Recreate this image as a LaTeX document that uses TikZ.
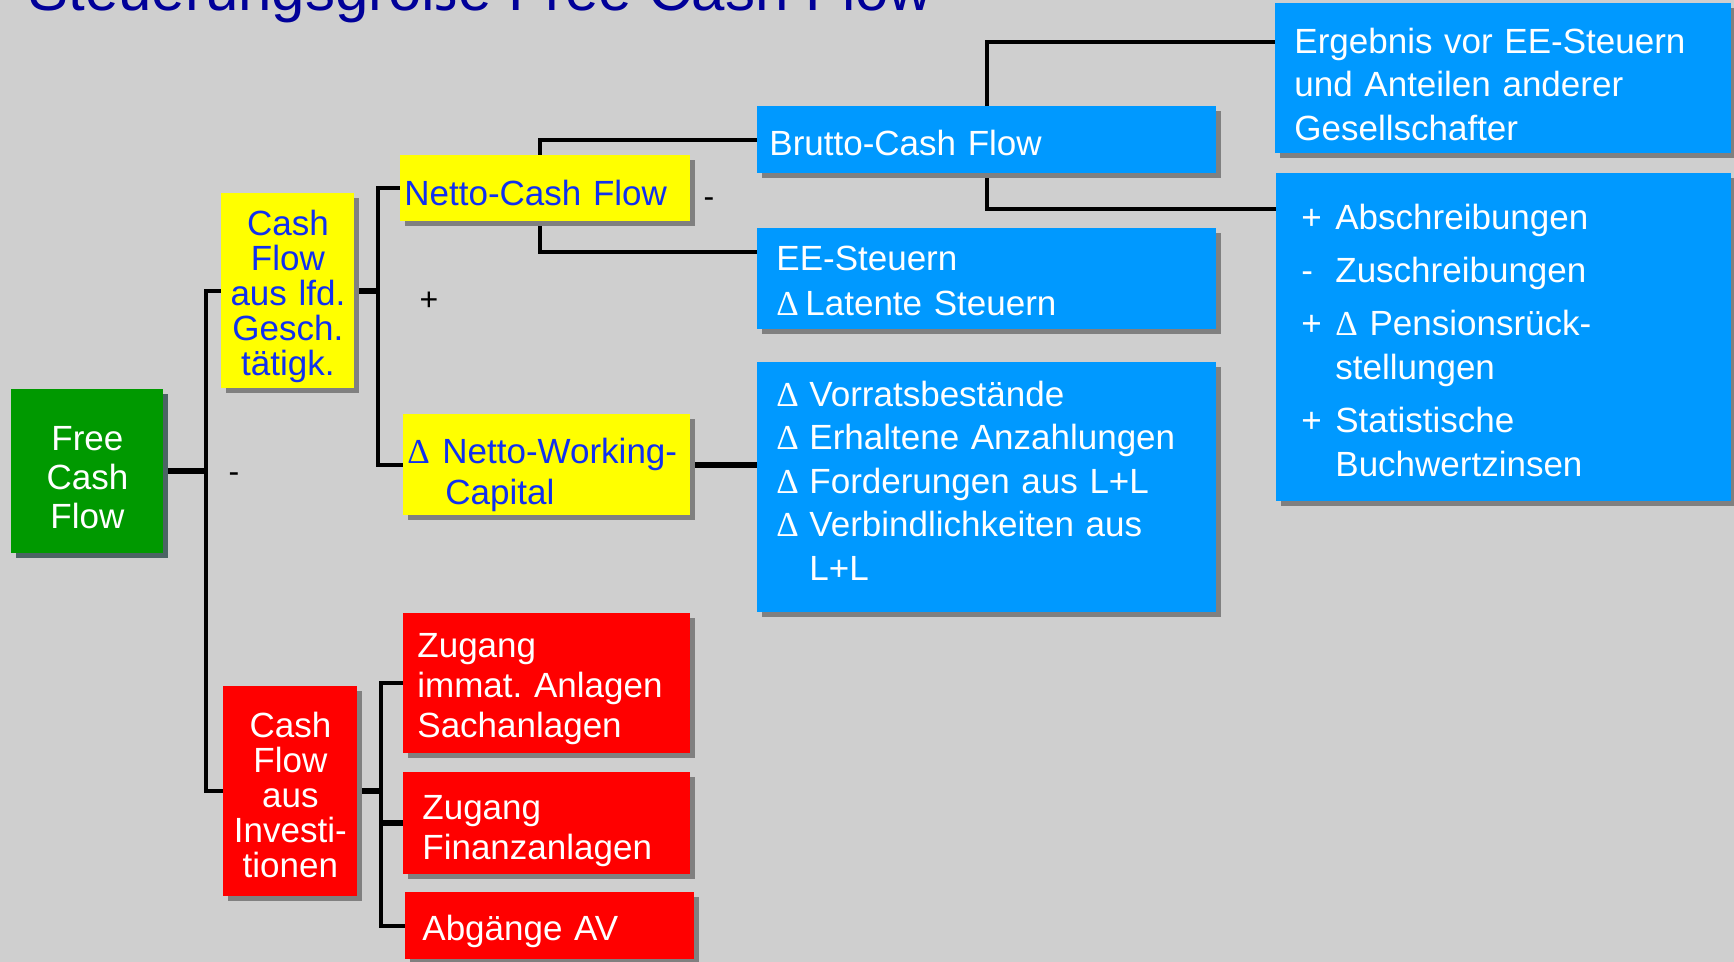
\documentclass[tikz,border=0pt]{standalone}
\usepackage{fontspec}
\setmainfont{Liberation Sans}
\newfontfamily\deltafont{Liberation Serif}
\usetikzlibrary{shadows, backgrounds}
\definecolor{slidegray}{HTML}{CFCFCF}
\definecolor{titleblue}{HTML}{000099}
\definecolor{textblue}{HTML}{1030F0}
\definecolor{boxgreen}{HTML}{009900}
\definecolor{boxyellow}{HTML}{FFFF00}
\definecolor{boxblue}{HTML}{0099FF}
\definecolor{boxred}{HTML}{FF0000}
\definecolor{shadowgray}{HTML}{808080}
\definecolor{shadowslate}{HTML}{4B6464}
\newcommand{\Dlt}{{\deltafont Δ}}
\newcommand{\Hang}[2]{\makebox[#1][l]{#2}}
\frenchspacing

\begin{document}
\begin{tikzpicture}[x=0.5pt, y=-0.5pt,
    boxshadow/.style={drop shadow={shadow xshift=2.25pt, shadow yshift=-2.25pt, fill=#1, opacity=1}},
    boxshadow/.default=shadowgray,
    box/.style={rectangle, anchor=north west, inner ysep=0pt, align=left},
    greenbox/.style={box, fill=boxgreen, text=white, boxshadow=shadowslate},
    yellowbox/.style={box, fill=boxyellow, text=textblue, boxshadow},
    bluebox/.style={box, fill=boxblue, text=white, boxshadow, font=\fontsize{17.5}{22}\selectfont},
    redbox/.style={box, fill=boxred, text=white, boxshadow},
    link/.style={draw, line width=2pt},
    stub/.style={draw, line width=3pt},
    sign/.style={font=\fontsize{16}{18}\selectfont}]
  \useasboundingbox (0,0) rectangle (1734,962);
  % Title
  \node[anchor=base west, inner sep=0pt, text=titleblue, font=\fontsize{30}{36}\selectfont] (Title) at (28,11) {Steuerungsgröße Free Cash Flow};

  % Nodes
  \node[greenbox, align=center, inner xsep=0pt, text width=76pt, minimum height=82pt, text height=30.5pt, text depth=51.5pt, font=\fontsize{17.5}{19.5}\selectfont] (FreeCF) at (11,389) {Free\\Cash\\Flow};

  \node[yellowbox, align=center, inner xsep=0pt, text width=66.5pt, minimum height=97.5pt, text height=21pt, text depth=76.5pt, font=\fontsize{17.5}{17.5}\selectfont] (CashFlowLfd) at (221,193) {Cash\\Flow\\aus lfd.\\Gesch.\\tätigk.};
  \node[yellowbox, inner xsep=2pt, text width=141pt, minimum height=33pt, text height=25pt, text depth=8pt, font=\fontsize{17.5}{20}\selectfont] (NettoCF) at (400,155) {Netto-Cash Flow};
  \node[yellowbox, inner xsep=2pt, text width=139.5pt, minimum height=50.5pt, text height=24.5pt, text depth=26pt, font=\fontsize{17.5}{20.5}\selectfont] (NettoWC) at (403,414) {\Hang{17.5pt}{\Dlt}Netto-Working-\\\hspace*{19pt}Capital};

  \node[bluebox, inner xsep=6pt, text width=217.5pt, minimum height=33.5pt, text height=24.5pt, text depth=9pt] (BruttoCF) at (757,106) {Brutto-Cash Flow};
  \node[bluebox, inner xsep=9.5pt, text width=210.5pt, minimum height=50.5pt, text height=21pt, text depth=29.5pt, font=\fontsize{17.5}{22.5}\selectfont] (EESteuern) at (757,228) {EE-Steuern\\\Hang{14.5pt}{\Dlt}Latente Steuern};
  \node[bluebox, inner xsep=9.5pt, text width=210.5pt, minimum height=125pt, text height=22pt, text depth=103pt, font=\fontsize{17.5}{21.75}\selectfont] (Vorrat) at (757,362) {\Hang{16.5pt}{\Dlt}Vorratsbestände\\\Hang{16.5pt}{\Dlt}Erhaltene Anzahlungen\\\Hang{16.5pt}{\Dlt}Forderungen aus L+L\\\Hang{16.5pt}{\Dlt}Verbindlichkeiten aus\\\hspace*{16.5pt}L+L};

  \node[bluebox, inner xsep=9.5pt, text width=209pt, minimum height=75pt, text height=25pt, text depth=50pt, font=\fontsize{17.5}{21.75}\selectfont] (Ergebnis) at (1275,3) {Ergebnis vor EE-Steuern\\und Anteilen anderer\\Gesellschafter};
  \node[bluebox, inner xsep=12.5pt, text width=202.5pt, minimum height=164pt, text height=28pt, text depth=136pt] (Abschr) at (1276,173) {\Hang{17pt}{+}Abschreibungen\\[4.5pt]\Hang{17pt}{-}Zuschreibungen\\[4.5pt]\Hang{17pt}{+}\Dlt\ Pensionsrück-\\\hspace*{17pt}stellungen\\[4.5pt]\Hang{17pt}{+}Statistische\\\hspace*{17pt}Buchwertzinsen};

  \node[redbox, align=center, inner xsep=0pt, text width=67pt, minimum height=105pt, text height=25.5pt, text depth=79.5pt, font=\fontsize{17.5}{17.5}\selectfont] (CashFlowInv) at (223,686) {Cash\\Flow\\aus\\Investi-\\tionen};
  \node[redbox, inner xsep=7pt, text width=129.5pt, minimum height=70pt, text height=22pt, text depth=48pt, font=\fontsize{17.5}{20}\selectfont] (ZugangImmat) at (403,613) {Zugang\\immat. Anlagen\\Sachanlagen};
  \node[redbox, inner xsep=9.5pt, text width=124.5pt, minimum height=51pt, text height=23.5pt, text depth=27.5pt, font=\fontsize{17.5}{20}\selectfont] (ZugangFinanz) at (403,772) {Zugang\\Finanzanlagen};
  \node[redbox, inner xsep=8.5pt, text width=127.5pt, minimum height=33.5pt, text height=24pt, text depth=9.5pt, font=\fontsize{17.5}{20}\selectfont] (AbgaengeAV) at (405,892) {Abgänge AV};

  % Signs
  \node[sign] (MinusInv) at (234,478) {-};
  \node[sign] (PlusNWC) at (429,301) {+};
  \node[sign] (MinusEE) at (709,203) {-};

  % Lines
  \begin{scope}[on background layer]
    \fill[slidegray] (0,0) rectangle (1734,962);
    \draw[stub] (FreeCF.east) -- ++(42,0) coordinate (FreeJ);
    \draw[link] (CashFlowLfd.west) -| (FreeJ) |- (CashFlowInv.west);

    \draw[stub] (CashFlowLfd.east) -- ++(23,0) coordinate (LfdJ);
    \draw[link] (NettoCF.west) -| (LfdJ) |- (NettoWC.west);
    \draw[link] (BruttoCF.west) -| ([xshift=-2.5pt]NettoCF.north);
    \draw[link] ([yshift=13.25pt]EESteuern.west) -| ([xshift=-2.5pt]NettoCF.south);
    \draw[stub] (NettoWC.east) -- (NettoWC.east -| Vorrat.west);

    \draw[link] ([yshift=18pt]Ergebnis.west) -| (BruttoCF.north);
    \draw[link] ([yshift=-18pt]Abschr.north west) -| (BruttoCF.south);

    \draw[stub] (CashFlowInv.east) -- ++(23,0) coordinate (InvJ);
    \draw[link] (ZugangImmat.west) -| (InvJ) |- (AbgaengeAV.west);
    \draw[stub] (InvJ |- ZugangFinanz.west) -- (ZugangFinanz.west);
  \end{scope}
\end{tikzpicture}
\end{document}
